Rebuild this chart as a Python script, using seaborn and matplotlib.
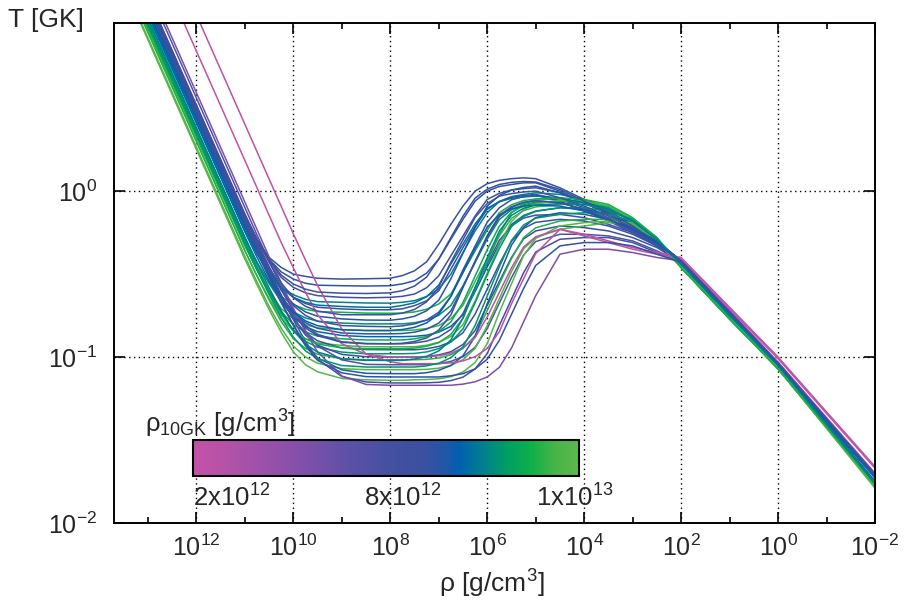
import numpy as np
import pandas as pd
import matplotlib
matplotlib.use("Agg")
import matplotlib.pyplot as plt
import seaborn as sns
from matplotlib.colors import LinearSegmentedColormap, Normalize
from matplotlib.cm import ScalarMappable
from matplotlib.ticker import FixedLocator, NullFormatter, NullLocator

# ---------------- data ----------------
# log10(rho [g/cm^3]) nodes shared by all trajectories
log_rho_nodes = [13.8, 11.0, 10.75, 10.5, 10.25, 10.0, 9.75, 9.5, 9.0, 8.5, 8.0, 7.75,
                 7.5, 7.25, 7.0, 6.75, 6.5, 6.25, 6.0, 5.75, 5.5, 5.25, 5.0, 4.5,
                 4.0, 3.5, 3.0, 2.5, 2.0, 1.0, 0.0, -2.0]

# log10(T [GK]) of each trajectory at the nodes above
logT_curves = [
    [1.65, -0.16, -0.293, -0.40, -0.46, -0.50, -0.514, -0.525, -0.53, -0.528, -0.525, -0.509, -0.48, -0.426, -0.32, -0.20, -0.09, 0.00, 0.045, 0.065, 0.075, 0.08, 0.075, 0.02, -0.05, -0.12, -0.20, -0.30, -0.42, -0.73, -1.04, -1.71],
    [1.66, -0.16, -0.295, -0.41, -0.487, -0.53, -0.555, -0.567, -0.57, -0.572, -0.57, -0.559, -0.54, -0.494, -0.41, -0.29, -0.17, -0.06, 0.0, 0.028, 0.04, 0.05, 0.05, 0.0, -0.07, -0.13, -0.21, -0.31, -0.42, -0.73, -1.04, -1.71],
    [1.68, -0.15, -0.292, -0.42, -0.52, -0.58, -0.613, -0.63, -0.64, -0.643, -0.64, -0.634, -0.62, -0.582, -0.51, -0.39, -0.27, -0.15, -0.05, -0.013, 0.007, 0.015, 0.02, -0.01, -0.07, -0.14, -0.21, -0.31, -0.42, -0.73, -1.04, -1.72],
    [1.58, -0.24, -0.379, -0.49, -0.578, -0.625, -0.652, -0.666, -0.67, -0.674, -0.675, -0.67, -0.66, -0.635, -0.59, -0.50, -0.37, -0.24, -0.13, -0.063, -0.033, -0.02, -0.01, -0.02, -0.05, -0.10, -0.18, -0.29, -0.44, -0.75, -1.05, -1.75],
    [1.65, -0.18, -0.332, -0.465, -0.573, -0.64, -0.677, -0.70, -0.71, -0.715, -0.715, -0.709, -0.69, -0.661, -0.60, -0.47, -0.34, -0.215, -0.11, -0.062, -0.037, -0.027, -0.02, -0.05, -0.10, -0.16, -0.23, -0.32, -0.42, -0.73, -1.04, -1.72],
    [1.53, -0.29, -0.432, -0.55, -0.636, -0.684, -0.712, -0.726, -0.73, -0.735, -0.736, -0.735, -0.728, -0.712, -0.68, -0.62, -0.49, -0.36, -0.235, -0.13, -0.082, -0.057, -0.047, -0.05, -0.07, -0.11, -0.18, -0.29, -0.46, -0.77, -1.07, -1.77],
    [1.65, -0.19, -0.34, -0.478, -0.596, -0.68, -0.728, -0.754, -0.77, -0.777, -0.778, -0.77, -0.754, -0.721, -0.657, -0.528, -0.374, -0.22, -0.09, -0.026, 0.006, 0.022, 0.03, -0.01, -0.07, -0.14, -0.21, -0.31, -0.42, -0.73, -1.04, -1.72],
    [1.55, -0.28, -0.428, -0.557, -0.665, -0.728, -0.764, -0.784, -0.795, -0.80, -0.80, -0.80, -0.793, -0.778, -0.748, -0.689, -0.571, -0.43, -0.289, -0.171, -0.112, -0.082, -0.067, -0.06, -0.07, -0.10, -0.17, -0.29, -0.44, -0.75, -1.05, -1.76],
    [1.68, -0.16, -0.314, -0.458, -0.587, -0.69, -0.749, -0.784, -0.81, -0.815, -0.817, -0.812, -0.80, -0.777, -0.73, -0.634, -0.474, -0.331, -0.187, -0.10, -0.052, -0.033, -0.025, -0.06, -0.12, -0.18, -0.25, -0.33, -0.42, -0.73, -1.04, -1.72],
    [1.50, -0.33, -0.473, -0.603, -0.708, -0.77, -0.805, -0.824, -0.835, -0.84, -0.84, -0.84, -0.837, -0.828, -0.81, -0.768, -0.688, -0.544, -0.407, -0.27, -0.164, -0.118, -0.095, -0.08, -0.08, -0.11, -0.18, -0.29, -0.46, -0.77, -1.07, -1.78],
    [1.64, -0.206, -0.36, -0.504, -0.633, -0.735, -0.793, -0.827, -0.855, -0.86, -0.86, -0.858, -0.85, -0.832, -0.795, -0.722, -0.576, -0.423, -0.277, -0.155, -0.099, -0.07, -0.058, -0.07, -0.11, -0.17, -0.24, -0.32, -0.42, -0.73, -1.04, -1.72],
    [1.60, -0.245, -0.398, -0.541, -0.665, -0.76, -0.817, -0.847, -0.87, -0.877, -0.877, -0.877, -0.875, -0.868, -0.85, -0.815, -0.745, -0.605, -0.457, -0.318, -0.201, -0.147, -0.12, -0.10, -0.11, -0.14, -0.19, -0.30, -0.44, -0.75, -1.05, -1.75],
    [1.52, -0.32, -0.47, -0.608, -0.725, -0.804, -0.849, -0.874, -0.89, -0.897, -0.897, -0.897, -0.89, -0.876, -0.847, -0.788, -0.671, -0.512, -0.353, -0.211, -0.127, -0.089, -0.072, -0.06, -0.065, -0.09, -0.17, -0.28, -0.46, -0.77, -1.07, -1.77],
    [1.70, -0.145, -0.302, -0.456, -0.596, -0.72, -0.81, -0.863, -0.908, -0.918, -0.92, -0.92, -0.915, -0.904, -0.88, -0.833, -0.738, -0.58, -0.438, -0.296, -0.209, -0.162, -0.145, -0.14, -0.16, -0.20, -0.25, -0.32, -0.43, -0.73, -1.04, -1.72],
    [1.48, -0.36, -0.51, -0.648, -0.765, -0.843, -0.89, -0.915, -0.93, -0.938, -0.938, -0.938, -0.938, -0.929, -0.911, -0.876, -0.805, -0.663, -0.494, -0.325, -0.183, -0.112, -0.077, -0.055, -0.06, -0.09, -0.17, -0.28, -0.46, -0.77, -1.07, -1.78],
    [1.65, -0.198, -0.355, -0.507, -0.646, -0.768, -0.854, -0.902, -0.946, -0.955, -0.956, -0.956, -0.956, -0.95, -0.936, -0.908, -0.853, -0.741, -0.59, -0.439, -0.303, -0.224, -0.188, -0.17, -0.18, -0.21, -0.26, -0.33, -0.43, -0.73, -1.04, -1.72],
    [1.54, -0.30, -0.455, -0.603, -0.734, -0.841, -0.905, -0.941, -0.97, -0.98, -0.98, -0.98, -0.978, -0.969, -0.949, -0.91, -0.83, -0.672, -0.505, -0.346, -0.214, -0.153, -0.122, -0.10, -0.10, -0.12, -0.17, -0.29, -0.44, -0.75, -1.05, -1.76],
    [1.68, -0.172, -0.333, -0.487, -0.632, -0.762, -0.867, -0.928, -0.984, -0.998, -1.0, -1.0, -1.0, -0.997, -0.987, -0.968, -0.924, -0.84, -0.688, -0.544, -0.40, -0.288, -0.24, -0.21, -0.22, -0.24, -0.28, -0.34, -0.43, -0.73, -1.04, -1.72],
    [1.49, -0.358, -0.512, -0.656, -0.786, -0.889, -0.948, -0.983, -1.01, -1.016, -1.016, -1.016, -1.016, -1.014, -1.006, -0.986, -0.948, -0.872, -0.72, -0.559, -0.407, -0.28, -0.221, -0.18, -0.17, -0.17, -0.20, -0.30, -0.46, -0.77, -1.07, -1.78],
    [1.75, -0.099, -0.264, -0.422, -0.576, -0.717, -0.841, -0.933, -1.017, -1.044, -1.046, -1.046, -1.046, -1.046, -1.04, -1.026, -0.998, -0.941, -0.828, -0.675, -0.522, -0.385, -0.304, -0.26, -0.26, -0.27, -0.30, -0.36, -0.43, -0.73, -1.04, -1.71],
    [1.45, -0.393, -0.547, -0.695, -0.826, -0.934, -0.999, -1.037, -1.07, -1.076, -1.076, -1.076, -1.076, -1.074, -1.067, -1.05, -1.016, -0.948, -0.811, -0.648, -0.485, -0.348, -0.28, -0.23, -0.21, -0.19, -0.20, -0.30, -0.46, -0.77, -1.07, -1.78],
    [1.65, -0.198, -0.363, -0.518, -0.669, -0.806, -0.923, -1.005, -1.077, -1.098, -1.10, -1.10, -1.10, -1.094, -1.08, -1.051, -0.992, -0.875, -0.679, -0.502, -0.326, -0.218, -0.159, -0.13, -0.14, -0.17, -0.22, -0.30, -0.42, -0.73, -1.04, -1.72],
    [1.44, -0.409, -0.564, -0.714, -0.851, -0.969, -1.046, -1.089, -1.129, -1.137, -1.14, -1.14, -1.137, -1.135, -1.131, -1.118, -1.09, -1.033, -0.919, -0.73, -0.559, -0.389, -0.285, -0.21, -0.19, -0.18, -0.19, -0.29, -0.46, -0.77, -1.07, -1.79],
    [1.70, -0.145, -0.31, -0.472, -0.626, -0.774, -0.906, -1.013, -1.117, -1.15, -1.156, -1.156, -1.156, -1.155, -1.152, -1.142, -1.121, -1.072, -0.979, -0.81, -0.651, -0.492, -0.367, -0.29, -0.28, -0.28, -0.31, -0.37, -0.43, -0.73, -1.04, -1.72],
    [1.78, -0.066, -0.231, -0.396, -0.553, -0.706, -0.847, -0.969, -1.114, -1.165, -1.17, -1.17, -1.17, -1.17, -1.17, -1.17, -1.163, -1.149, -1.12, -1.062, -0.946, -0.788, -0.63, -0.38, -0.35, -0.35, -0.37, -0.40, -0.42, -0.72, -1.03, -1.70],
    [2.03, 0.185, 0.02, -0.145, -0.31, -0.462, -0.61, -0.745, -0.92, -0.983, -1.0, -1.0, -1.0, -1.0, -0.992, -0.977, -0.945, -0.883, -0.758, -0.61, -0.462, -0.337, -0.275, -0.23, -0.27, -0.31, -0.35, -0.38, -0.41, -0.71, -1.01, -1.67],
    [2.25, 0.403, 0.238, 0.073, -0.092, -0.257, -0.415, -0.569, -0.832, -0.982, -1.028, -1.04, -1.04, -1.04, -1.04, -1.035, -1.023, -0.998, -0.948, -0.847, -0.679, -0.528, -0.376, -0.23, -0.26, -0.30, -0.34, -0.37, -0.40, -0.70, -1.0, -1.66],
    [1.61, -0.22, -0.361, -0.488, -0.583, -0.64, -0.67, -0.687, -0.695, -0.70, -0.70, -0.689, -0.673, -0.636, -0.566, -0.439, -0.318, -0.198, -0.104, -0.064, -0.043, -0.035, -0.03, -0.04, -0.07, -0.11, -0.18, -0.29, -0.44, -0.75, -1.05, -1.75],
    [1.52, -0.323, -0.477, -0.618, -0.743, -0.836, -0.89, -0.921, -0.945, -0.95, -0.95, -0.95, -0.946, -0.935, -0.913, -0.863, -0.766, -0.591, -0.426, -0.26, -0.131, -0.076, -0.048, -0.04, -0.05, -0.08, -0.16, -0.28, -0.46, -0.77, -1.07, -1.77],
    [1.68, -0.147, -0.288, -0.413, -0.506, -0.56, -0.591, -0.608, -0.615, -0.617, -0.613, -0.60, -0.572, -0.518, -0.409, -0.28, -0.151, -0.042, 0.012, 0.04, 0.053, 0.058, 0.055, 0.01, -0.06, -0.13, -0.21, -0.31, -0.42, -0.73, -1.04, -1.71],
    [1.53, -0.317, -0.473, -0.623, -0.762, -0.88, -0.963, -1.01, -1.051, -1.06, -1.06, -1.06, -1.06, -1.053, -1.037, -1.004, -0.939, -0.809, -0.632, -0.456, -0.297, -0.204, -0.163, -0.14, -0.13, -0.14, -0.18, -0.29, -0.44, -0.75, -1.05, -1.76],
    [1.70, -0.137, -0.29, -0.43, -0.553, -0.642, -0.694, -0.723, -0.745, -0.745, -0.745, -0.735, -0.713, -0.667, -0.578, -0.428, -0.293, -0.158, -0.075, -0.03, -0.015, -0.005, 0.0, -0.04, -0.09, -0.15, -0.22, -0.32, -0.42, -0.73, -1.04, -1.72],
    [1.62, -0.217, -0.371, -0.512, -0.636, -0.727, -0.782, -0.811, -0.835, -0.84, -0.84, -0.834, -0.821, -0.794, -0.741, -0.635, -0.49, -0.346, -0.217, -0.141, -0.107, -0.091, -0.085, -0.09, -0.12, -0.17, -0.23, -0.31, -0.43, -0.74, -1.05, -1.73],
    [1.57, -0.277, -0.433, -0.583, -0.722, -0.84, -0.923, -0.97, -1.011, -1.02, -1.02, -1.02, -1.012, -0.996, -0.963, -0.897, -0.764, -0.583, -0.402, -0.241, -0.146, -0.103, -0.084, -0.075, -0.08, -0.11, -0.18, -0.29, -0.44, -0.75, -1.05, -1.76],
    [1.66, -0.185, -0.34, -0.491, -0.628, -0.745, -0.825, -0.871, -0.911, -0.92, -0.92, -0.917, -0.906, -0.885, -0.837, -0.746, -0.581, -0.424, -0.268, -0.146, -0.094, -0.067, -0.058, -0.07, -0.11, -0.17, -0.24, -0.32, -0.42, -0.73, -1.04, -1.72],
    [1.65, -0.198, -0.363, -0.52, -0.672, -0.81, -0.932, -1.02, -1.095, -1.118, -1.12, -1.12, -1.12, -1.12, -1.12, -1.113, -1.1, -1.071, -1.013, -0.899, -0.743, -0.587, -0.448, -0.33, -0.31, -0.31, -0.33, -0.38, -0.43, -0.73, -1.04, -1.71],
]

# position of each trajectory on the rho_10GK colour scale (0 = left end, 1 = right end)
rho10_color_pos = [0.60, 0.62, 0.55, 0.75, 0.60, 0.88, 0.65, 0.78, 0.58, 0.92,
                   0.62, 0.70, 0.85, 0.55, 0.95, 0.60, 0.80, 0.60, 0.90, 0.45,
                   0.96, 0.65, 0.98, 0.52, 0.30, 0.02, 0.05, 0.72, 0.88, 0.60,
                   0.80, 0.55, 0.68, 0.75, 0.58, 0.62]

x_tick_exps = [12, 10, 8, 6, 4, 2, 0, -2]
x_minor_exps = [13, 11, 9, 7, 5, 3, 1, -1]
y_tick_exps = [-2, -1, 0]
cbar_tick_pos = [0.085, 0.526, 0.970]
cbar_label_pos = [0.100, 0.543, 0.990]
cbar_tick_labels = ["2x10$^{12}$", "8x10$^{12}$", "1x10$^{13}$"]

cmap_nodes = [(0.00, "#c452a6"), (0.08, "#b552a8"), (0.25, "#8a50aa"),
              (0.40, "#5e50a8"), (0.50, "#4650a2"), (0.60, "#3a50a0"),
              (0.66, "#1d58a8"), (0.69, "#0060b0"), (0.76, "#00848a"),
              (0.82, "#00a060"), (0.88, "#10b048"), (0.94, "#48b448"),
              (1.00, "#5cb84c")]

for row in logT_curves:
    assert len(row) == len(log_rho_nodes)
assert len(rho10_color_pos) == len(logT_curves)

# ---------------- style ----------------
sns.set_theme(style="ticks")
plt.rcParams["font.family"] = ["Liberation Sans", "DejaVu Sans"]
plt.rcParams["mathtext.fontset"] = "custom"
plt.rcParams["mathtext.rm"] = "Liberation Sans"
plt.rcParams["mathtext.it"] = "Liberation Sans:italic"
plt.rcParams["mathtext.bf"] = "Liberation Sans:bold"
plt.rcParams["mathtext.sf"] = "Liberation Sans"
plt.rcParams["axes.edgecolor"] = "black"

cmap = LinearSegmentedColormap.from_list("rho10", cmap_nodes)

fig = plt.figure(figsize=(9.11, 6.03), dpi=100)
ax = fig.add_axes([114 / 911, 1 - 523 / 603, (875 - 114) / 911, (523 - 22.7) / 603])
ax.set_xscale("log")
ax.set_yscale("log")

records = []
for i, row in enumerate(logT_curves):
    for L, v in zip(log_rho_nodes, row):
        records.append({"rho": 10.0 ** L, "T": 10.0 ** v, "curve": i})
df = pd.DataFrame(records)
palette = {i: cmap(c) for i, c in enumerate(rho10_color_pos)}

sns.lineplot(data=df, x="rho", y="T", hue="curve", palette=palette,
             estimator=None, sort=False, legend=False, linewidth=1.1, ax=ax)

ax.set_xlim(10 ** 13.7, 1e-2)
ax.set_ylim(1e-2, 10 ** 1.015)
ax.set_xlabel("")
ax.set_ylabel("")

ax.xaxis.set_major_locator(FixedLocator([10.0 ** e for e in x_tick_exps]))
ax.xaxis.set_minor_locator(FixedLocator([10.0 ** e for e in x_minor_exps]))
ax.xaxis.set_minor_formatter(NullFormatter())
ax.set_xticklabels([r"$\mathregular{10^{%d}}$" % e for e in x_tick_exps])
ax.yaxis.set_major_locator(FixedLocator([10.0 ** e for e in y_tick_exps]))
ax.yaxis.set_minor_locator(NullLocator())
ax.set_yticklabels([r"$\mathregular{10^{%d}}$" % e for e in y_tick_exps])

ax.tick_params(which="both", direction="in", top=True, right=True, width=1.2, color="black")
ax.tick_params(which="major", length=8)
ax.tick_params(which="minor", length=4)
ax.tick_params(axis="x", which="major", pad=8, labelsize=18)
ax.tick_params(axis="y", which="major", pad=12, labelsize=18)
for s in ax.spines.values():
    s.set_linewidth(1.4)
    s.set_color("black")

ax.grid(which="major", axis="both", color="black", linestyle=(0, (1, 2.5)), linewidth=1.0)
ax.set_axisbelow(True)

fig.text(8 / 911, 1 - 20 / 603, "T [GK]", ha="left", va="center", fontsize=19)
fig.text(492 / 911, 1 - 584 / 603, r"ρ [g/cm$^{3}$]", ha="center", va="center", fontsize=19)

# colour bar inset
cax = fig.add_axes([193 / 911, 1 - 476 / 603, 386 / 911, 36 / 603])
cb = fig.colorbar(ScalarMappable(norm=Normalize(0, 1), cmap=cmap), cax=cax, orientation="horizontal")
cb.outline.set_linewidth(1.5)
cb.outline.set_edgecolor("black")
cax.minorticks_off()
cax.set_xticks(cbar_tick_pos)
cax.set_xticklabels([])
cax.tick_params(axis="x", which="both", direction="in", top=True, bottom=True,
                length=9, width=1.5, color="black", labelbottom=False)
for p, lab in zip(cbar_label_pos, cbar_tick_labels):
    cax.text(p, -0.22, lab, transform=cax.transAxes, ha="center", va="top", fontsize=18.5)
fig.text(145 / 911, 1 - 424 / 603, r"ρ$_{\mathregular{10GK}}$ [g/cm$^{3}$]",
         ha="left", va="center", fontsize=18.5)

fig.savefig("out.png", dpi=100)
